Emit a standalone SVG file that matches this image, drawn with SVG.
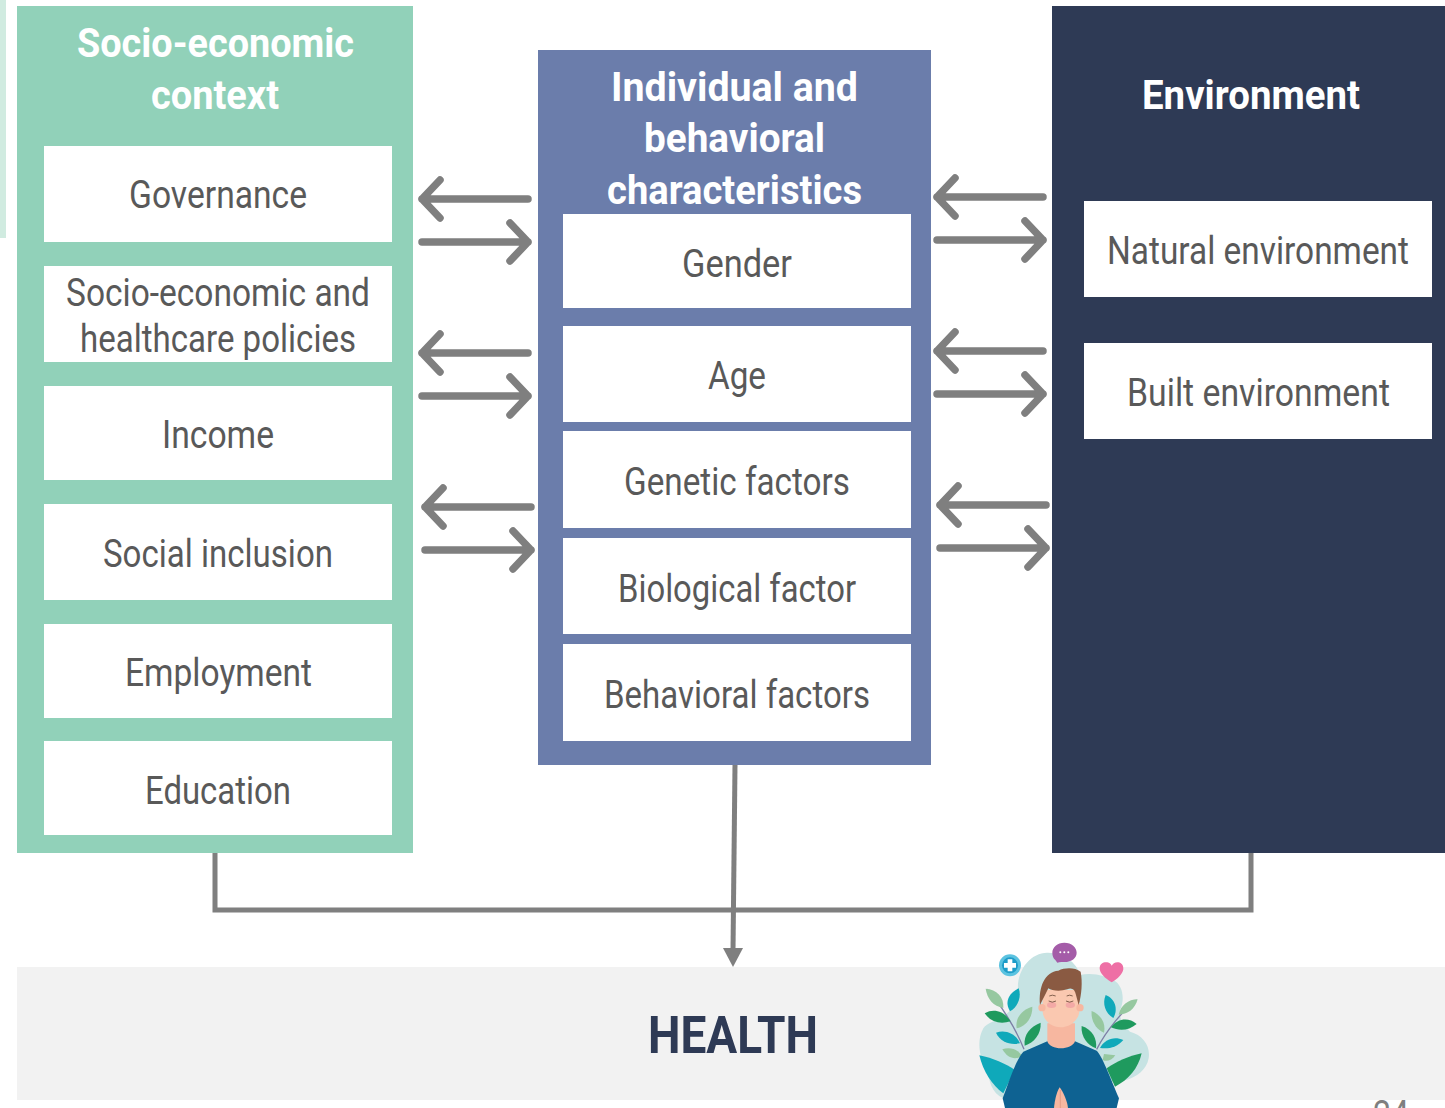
<svg xmlns="http://www.w3.org/2000/svg" width="1445" height="1108" viewBox="0 0 1445 1108">
<defs>
<style>
text{font-family:"Roboto","Liberation Sans",sans-serif}
.h{font-size:40px;font-weight:700;fill:#fff}
.l{font-size:38px;fill:#595959}
.w{fill:#fff}
.a{fill:none;stroke:#7f7f7f;stroke-width:7.5;stroke-linecap:round;stroke-linejoin:round}
.c{fill:none;stroke:#7f7f7f;stroke-width:5}
</style>
<g id="pair"><path class="a" d="M109 1H3M21-18L3 1L21 20"/><path class="a" d="M3 44H109M91 25L109 44L91 63"/></g>
</defs>
<rect x="0" y="0" width="1445" height="1108" fill="#fff"/>
<rect x="0" y="0" width="6" height="238" fill="#d0ebe0"/>
<rect id="band" x="17" y="967" width="1428" height="133" fill="#f2f2f2"/>
<text x="1373" y="1128" font-size="38" fill="#7f7f7f" textLength="36" lengthAdjust="spacingAndGlyphs">24</text>

<g id="socio">
<rect x="17" y="6" width="396" height="847" fill="#91d1b9"/>
<text class="h" x="77" y="57" textLength="277" lengthAdjust="spacingAndGlyphs">Socio-economic</text>
<text class="h" x="151" y="109" textLength="128" lengthAdjust="spacingAndGlyphs">context</text>
<rect class="w" x="44" y="146" width="348" height="96"/>
<text class="l" x="129" y="208" textLength="178" lengthAdjust="spacingAndGlyphs">Governance</text>
<rect class="w" x="44" y="266" width="348" height="96"/>
<text class="l" x="66" y="306" textLength="304" lengthAdjust="spacingAndGlyphs">Socio-economic and</text>
<text class="l" x="80" y="352" textLength="276" lengthAdjust="spacingAndGlyphs">healthcare policies</text>
<rect class="w" x="44" y="386" width="348" height="94"/>
<text class="l" x="162" y="448" textLength="112" lengthAdjust="spacingAndGlyphs">Income</text>
<rect class="w" x="44" y="504" width="348" height="96"/>
<text class="l" x="103" y="567" textLength="230" lengthAdjust="spacingAndGlyphs">Social inclusion</text>
<rect class="w" x="44" y="624" width="348" height="94"/>
<text class="l" x="125" y="686" textLength="187" lengthAdjust="spacingAndGlyphs">Employment</text>
<rect class="w" x="44" y="741" width="348" height="94"/>
<text class="l" x="145" y="804" textLength="146" lengthAdjust="spacingAndGlyphs">Education</text>
</g>

<g id="individual">
<rect x="538" y="50" width="393" height="715" fill="#6b7dab"/>
<text class="h" x="611" y="101" textLength="247" lengthAdjust="spacingAndGlyphs">Individual and</text>
<text class="h" x="644" y="152" textLength="181" lengthAdjust="spacingAndGlyphs">behavioral</text>
<text class="h" x="607" y="204" textLength="255" lengthAdjust="spacingAndGlyphs">characteristics</text>
<rect class="w" x="563" y="214" width="348" height="94"/>
<text class="l" x="682" y="277" textLength="110" lengthAdjust="spacingAndGlyphs">Gender</text>
<rect class="w" x="563" y="326" width="348" height="96"/>
<text class="l" x="708" y="389" textLength="58" lengthAdjust="spacingAndGlyphs">Age</text>
<rect class="w" x="563" y="431" width="348" height="97"/>
<text class="l" x="624" y="495" textLength="226" lengthAdjust="spacingAndGlyphs">Genetic factors</text>
<rect class="w" x="563" y="538" width="348" height="96"/>
<text class="l" x="618" y="602" textLength="238" lengthAdjust="spacingAndGlyphs">Biological factor</text>
<rect class="w" x="563" y="644" width="348" height="97"/>
<text class="l" x="604" y="708" textLength="266" lengthAdjust="spacingAndGlyphs">Behavioral factors</text>
</g>

<g id="environment">
<rect x="1052" y="6" width="393" height="847" fill="#2e3a55"/>
<text class="h" x="1142" y="109" textLength="218" lengthAdjust="spacingAndGlyphs">Environment</text>
<rect class="w" x="1084" y="201" width="348" height="96"/>
<text class="l" x="1107" y="264" textLength="302" lengthAdjust="spacingAndGlyphs">Natural environment</text>
<rect class="w" x="1084" y="343" width="348" height="96"/>
<text class="l" x="1127" y="406" textLength="263" lengthAdjust="spacingAndGlyphs">Built environment</text>
</g>

<g id="connectors">
<use href="#pair" x="419" y="198"/>
<use href="#pair" x="419" y="352"/>
<use href="#pair" x="422" y="506"/>
<use href="#pair" x="934" y="196"/>
<use href="#pair" x="934" y="350"/>
<use href="#pair" x="937" y="504"/>
<path class="c" d="M215 853V910H1251V853"/>
<path class="c" d="M735 765L733 950"/>
<polygon points="723,948 743,948 733,967" fill="#7f7f7f"/>
</g>

<g id="health">
<text x="648" y="1053" font-size="52" font-weight="700" fill="#2e3a55" textLength="170" lengthAdjust="spacingAndGlyphs">HEALTH</text>
<g transform="translate(960 930) scale(.3333)">
<path fill="#c6e3e3" d="M175 190C165 120 215 65 265 68C310 70 350 95 360 135C400 125 440 140 460 150C490 165 495 210 480 240C475 270 500 295 510 305C550 315 572 350 566 385C560 420 530 440 500 450L130 505C95 490 85 450 85 420C55 385 50 330 70 295C90 265 150 280 175 190Z"/>
<g fill="none" stroke="#7d7fa6" stroke-width="4"><path d="M80 178C120 220 165 290 192 358"/><path d="M530 210C490 240 440 300 410 358"/></g>
<g fill="#96c8a0">
<path d="M77 176C110 178 132 200 130 234C100 228 82 208 77 176Z"/>
<path d="M217 230C218 262 198 290 170 295C165 262 188 238 217 230Z"/>
<path d="M127 358C150 350 175 358 186 378C165 392 142 384 127 358Z"/>
<path d="M533 208C525 238 502 254 476 254C482 226 505 208 533 208Z"/>
<path d="M395 243C425 255 438 282 432 308C408 298 392 272 395 243Z"/>
<path d="M466 376C455 392 440 396 428 390L432 372Z"/>
</g>
<g fill="#0fa9ba">
<path d="M176 175C186 202 172 232 150 244C132 215 148 188 176 175Z"/>
<path d="M108 308C138 298 168 312 180 340C150 346 122 336 108 308Z"/>
<path d="M437 195C464 205 476 236 460 264C436 250 426 222 437 195Z"/>
<path d="M490 330C472 352 445 358 420 354C434 328 462 318 490 330Z"/>
<path d="M58 376C100 385 135 400 165 420L130 490C95 465 70 425 58 376Z"/>
</g>
<g fill="#1f9a5e">
<path d="M74 250C102 234 132 244 152 274C120 284 92 276 74 250Z"/>
<path d="M242 278C244 312 222 338 194 347C190 315 210 290 242 278Z"/>
<path d="M530 282C506 302 478 304 453 292C474 264 506 262 530 282Z"/>
<path d="M365 288C398 298 412 328 408 355C384 346 362 322 365 288Z"/>
<path d="M545 370C535 415 505 450 465 470L440 415C470 395 505 378 545 370Z"/>
</g>
<path fill="#f7b7a0" d="M262 280H345V345L305 372L262 345Z"/>
<path fill="#fac8b0" d="M248 180H358V245C355 275 325 292 302 292C275 292 250 272 248 245Z"/>
<circle cx="246" cy="233" r="11" fill="#f7b7a0"/><circle cx="360" cy="233" r="11" fill="#f7b7a0"/>
<path fill="#8a5a42" d="M240 225C235 170 255 125 295 122C315 112 345 112 362 125C368 155 365 195 356 225L348 195C345 178 335 172 322 178C300 185 275 182 265 175C258 190 250 205 240 225Z"/>
<ellipse cx="275" cy="225" rx="14" ry="9" fill="#f3a9a6"/><ellipse cx="331" cy="225" rx="14" ry="9" fill="#f3a9a6"/>
<g fill="none" stroke="#6a4a3a" stroke-width="2.5"><path d="M266 213Q277 220 288 213"/><path d="M318 213Q329 220 340 213"/><path d="M268 198Q277 193 287 198"/><path d="M320 198Q329 193 338 198"/></g>
<path fill="#0e6292" d="M262 334C270 362 335 362 345 334L410 362C425 375 450 440 477 505L470 534H135L128 505C150 450 165 395 190 365Z"/>
<path fill="#f7b7a0" d="M299 472C312 490 322 515 324 534H282C284 515 288 490 299 472Z"/>
<path fill="none" stroke="#d98f7a" stroke-width="2" d="M301 480V534"/>
<circle cx="150" cy="106" r="33" fill="#5cc3e0"/><circle cx="150" cy="106" r="24" fill="#1e9cc8"/>
<path fill="#fff" d="M143 88H157V99H168V113H157V124H143V113H132V99H143Z"/>
<path fill="#a45ca8" d="M313 38C335 38 350 52 350 68C350 84 335 96 313 96C305 96 298 95 292 98L286 90C280 85 277 77 277 68C277 52 292 38 313 38Z"/>
<g fill="#fff"><circle cx="301" cy="67" r="3"/><circle cx="313" cy="67" r="3"/><circle cx="325" cy="67" r="3"/></g>
<path fill="#ee6fa5" d="M455 157C435 145 419 130 419 115C419 100 432 95 442 97C449 98 453 103 455 107C458 102 465 96 475 97C485 98 491 107 490 118C488 132 473 147 455 157Z"/>
</g>
</g>
</svg>
